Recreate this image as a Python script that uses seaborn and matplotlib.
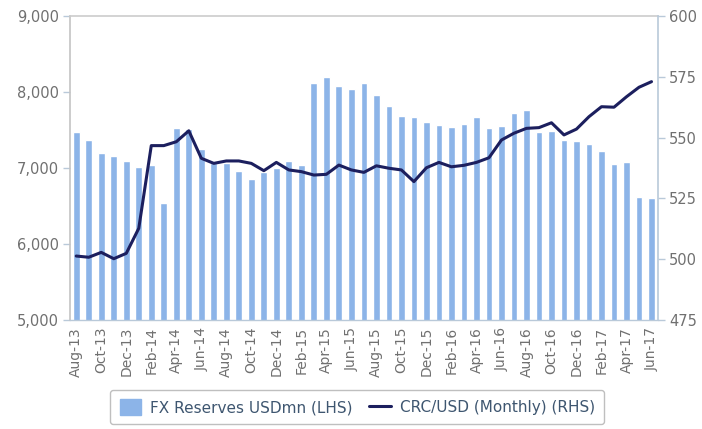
import matplotlib
matplotlib.use("Agg")
import matplotlib.pyplot as plt
import seaborn as sns
import pandas as pd
import numpy as np
from matplotlib.patches import Patch
from matplotlib.lines import Line2D
from matplotlib.ticker import FuncFormatter, MultipleLocator

months = ["Aug-13", "Sep-13", "Oct-13", "Nov-13", "Dec-13",
          "Jan-14", "Feb-14", "Mar-14", "Apr-14", "May-14", "Jun-14", "Jul-14", "Aug-14", "Sep-14", "Oct-14", "Nov-14", "Dec-14",
          "Jan-15", "Feb-15", "Mar-15", "Apr-15", "May-15", "Jun-15", "Jul-15", "Aug-15", "Sep-15", "Oct-15", "Nov-15", "Dec-15",
          "Jan-16", "Feb-16", "Mar-16", "Apr-16", "May-16", "Jun-16", "Jul-16", "Aug-16", "Sep-16", "Oct-16", "Nov-16", "Dec-16",
          "Jan-17", "Feb-17", "Mar-17", "Apr-17", "May-17", "Jun-17"]

fx_reserves = [7470, 7370, 7195, 7155, 7090, 7015, 7035, 6545, 7530, 7510, 7250, 7060,
               7060, 6955, 6860, 6950, 6995, 7095, 7035, 8120, 8200, 8080, 8040, 8120,
               7960, 7820, 7685, 7665, 7605, 7565, 7545, 7585, 7665, 7530, 7550, 7725,
               7765, 7470, 7485, 7370, 7350, 7310, 7230, 7055, 7075, 6615, 6600]

crc_usd = [501.3, 500.8, 502.8, 500.2, 502.4, 512.7, 546.7, 546.7, 548.3, 552.8, 541.5, 539.4,
           540.4, 540.4, 539.4, 536.4, 539.8, 536.7, 536.0, 534.6, 534.9, 538.7, 536.7, 535.7,
           538.4, 537.4, 536.7, 531.9, 537.6, 539.8, 538.0, 538.6, 539.8, 541.7, 549.0, 551.8,
           553.8, 554.1, 556.1, 551.1, 553.5, 558.6, 562.7, 562.5, 566.8, 570.7, 573.0]

label_bar = "FX Reserves USDmn (LHS)"
label_line = "CRC/USD (Monthly) (RHS)"

bar_color = "#8cb4e8"
line_color = "#1c1f5e"
tick_color = "#707070"
axis_color = "#b9c9d9"

df = pd.DataFrame({"month": months, "reserves": fx_reserves, "crc": crc_usd})
df["pos"] = np.arange(len(df))

sns.set_theme(style="white")
plt.rcParams["font.family"] = ["DejaVu Sans"]

fig = plt.figure(figsize=(7.02, 4.29), dpi=100)
ax = fig.add_axes([0.0997, 0.2541, 0.8373, 0.7086])

sns.barplot(data=df, x="month", y="reserves", color=bar_color, width=0.54,
            saturation=1, ax=ax, order=months)
ax.set_ylim(5000, 9000)
ax.set_xlim(-0.5, len(months) - 0.5)
ax.yaxis.set_major_locator(MultipleLocator(1000))
ax.yaxis.set_major_formatter(FuncFormatter(lambda v, p: f"{int(v):,}"))
ax.set_xlabel("")
ax.set_ylabel("")

ax2 = ax.twinx()
sns.lineplot(data=df, x="pos", y="crc", color=line_color, linewidth=2.2, ax=ax2)
ax2.set_ylim(475, 600)
ax2.yaxis.set_major_locator(MultipleLocator(25))
ax2.set_xlim(-0.5, len(months) - 0.5)
ax2.set_xlabel("")
ax2.set_ylabel("")

# x ticks: labels every 2nd month, tick marks at category boundaries
ax.set_xticks(np.arange(0, len(months), 2))
ax.set_xticklabels(months[::2], rotation=90, fontsize=10, color=tick_color)
ax.set_xticks(np.arange(-0.5, len(months), 1), minor=True)
ax.tick_params(axis="x", which="major", length=0, pad=5)
ax.tick_params(axis="x", which="minor", length=5, width=1, color=axis_color, direction="out")
ax.tick_params(axis="y", length=5, width=1, color=axis_color, labelsize=10.5,
               labelcolor=tick_color, pad=3, left=True)
ax2.tick_params(axis="y", length=5, width=1, color=axis_color, labelsize=10.5,
                labelcolor=tick_color, pad=3, right=True)

for a in (ax, ax2):
    for s in a.spines.values():
        s.set_visible(False)
ax.spines["left"].set_visible(True)
ax.spines["left"].set_color("#c4c4c4")
ax.spines["left"].set_linewidth(1.2)
ax.spines["top"].set_visible(True)
ax.spines["top"].set_color("#cccccc")
ax.spines["top"].set_linewidth(1.2)
ax.spines["bottom"].set_visible(True)
ax.spines["bottom"].set_color(axis_color)
ax.spines["bottom"].set_linewidth(1)
ax2.spines["right"].set_visible(True)
ax2.spines["right"].set_color(axis_color)
ax2.spines["right"].set_linewidth(1.2)

handles = [Patch(facecolor=bar_color, edgecolor=bar_color, label=label_bar),
           Line2D([0], [0], color=line_color, linewidth=2.2, label=label_line)]
leg = fig.legend(handles=handles, loc="lower center", bbox_to_anchor=(0.509, 0.0),
                 ncol=2, frameon=True, fancybox=True, fontsize=11,
                 handlelength=1.4, handleheight=1.2, columnspacing=1.1, handletextpad=0.6,
                 borderpad=0.6, borderaxespad=0.3)
leg.get_frame().set_edgecolor("#b0b0b0")
leg.get_frame().set_linewidth(1)
for t in leg.get_texts():
    t.set_color("#3e5670")

fig.savefig("out.png", dpi=100)
